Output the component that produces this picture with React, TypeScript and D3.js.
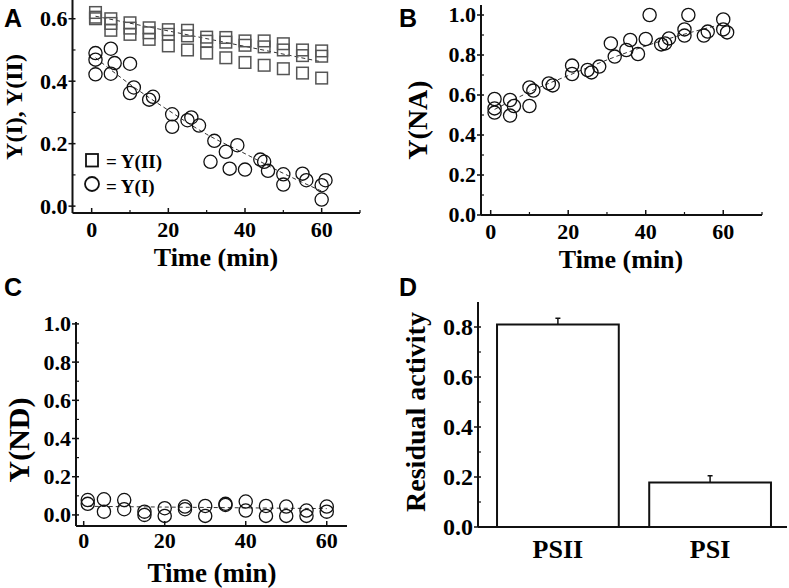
import React from "react";
import * as d3 from "d3";

// ---------- Panel A data ----------
const aSquareT = [1, 1, 1, 5, 5, 5, 10, 10, 10, 15, 15, 15, 20, 20, 20, 25, 25, 25, 30, 30, 30, 35, 35, 35, 40, 40, 40, 45, 45, 45, 50, 50, 50, 55, 55, 55, 60, 60, 60];
const aSquareV = [0.62, 0.605, 0.6, 0.6, 0.585, 0.563, 0.587, 0.57, 0.55, 0.571, 0.555, 0.534, 0.565, 0.55, 0.513, 0.563, 0.545, 0.5, 0.541, 0.528, 0.49, 0.54, 0.525, 0.475, 0.529, 0.515, 0.46, 0.529, 0.51, 0.451, 0.52, 0.5, 0.44, 0.5, 0.482, 0.426, 0.497, 0.48, 0.41];
const aCircleT = [1, 1, 1, 5, 5, 6, 10, 11, 10, 15, 16, 21, 21, 25, 26, 28, 31, 32, 35, 36, 38, 40, 44, 45, 46, 50, 50, 55, 56, 60, 61, 60];
const aCircleV = [0.49, 0.469, 0.422, 0.504, 0.424, 0.458, 0.456, 0.38, 0.362, 0.341, 0.35, 0.294, 0.254, 0.275, 0.284, 0.258, 0.142, 0.209, 0.174, 0.12, 0.195, 0.117, 0.149, 0.142, 0.113, 0.102, 0.069, 0.104, 0.083, 0.067, 0.083, 0.021];
const aFitSqT = [1, 60];
const aFitSqV = [0.608, 0.462];
const aFitCiT = [1, 10, 20, 30, 40, 50, 60];
const aFitCiV = [0.475, 0.39, 0.307, 0.23, 0.168, 0.105, 0.048];

// ---------- Panel B data ----------
const bT = [1, 1, 1, 5, 5, 6, 10, 11, 10, 15, 16, 21, 21, 25, 26, 28, 31, 32, 35, 36, 38, 40, 41, 44, 45, 46, 50, 50, 51, 55, 56, 60, 60, 61];
const bV = [0.58, 0.533, 0.512, 0.575, 0.497, 0.545, 0.638, 0.622, 0.545, 0.658, 0.648, 0.747, 0.705, 0.725, 0.713, 0.742, 0.858, 0.792, 0.825, 0.875, 0.805, 0.88, 1.0, 0.853, 0.858, 0.883, 0.928, 0.897, 1.0, 0.897, 0.917, 0.978, 0.928, 0.913];
const bFitT = [1, 12, 21, 32, 42, 52, 60];
const bFitV = [0.528, 0.633, 0.705, 0.79, 0.858, 0.915, 0.955];

// ---------- Panel C data ----------
const cT = [1, 1, 5, 5, 10, 10, 15, 15, 20, 20, 25, 25, 30, 30, 35, 35, 40, 40, 45, 45, 50, 50, 55, 55, 60, 60];
const cV = [0.078, 0.058, 0.082, 0.017, 0.078, 0.03, 0.017, 0.0, 0.035, -0.005, 0.044, 0.03, 0.047, -0.005, 0.058, 0.052, 0.07, 0.023, 0.047, -0.005, 0.044, -0.005, 0.023, -0.005, 0.044, 0.017];
const cFitT = [1, 60];
const cFitV = [0.045, 0.033];

// ---------- Panel D data ----------
const dCats = ["PSII", "PSI"];
const dVals = [0.81, 0.178];
const dErr = [0.025, 0.027];

// ---------- Tick values ----------
const timeMajor = [0, 20, 40, 60];
const timeMinorA = [10, 30, 50, 70];
const aYMajor = [0.0, 0.2, 0.4, 0.6];
const aYMinor = [0.1, 0.3, 0.5];
const unitMajor = [0.0, 0.2, 0.4, 0.6, 0.8, 1.0];
const unitMinor = [0.1, 0.3, 0.5, 0.7, 0.9];
const dYMajor = [0.0, 0.2, 0.4, 0.6, 0.8];
const dYMinor = [0.1, 0.3, 0.5, 0.7];

const SERIF = "'Liberation Serif', 'Times New Roman', serif";
const SANS = "'Liberation Sans', Arial, sans-serif";
const AX = "#111";

type Lin = d3.ScaleLinear<number, number>;

function YAxis({ scale, x, major, minor, fmt, fs }: { scale: Lin; x: number; major: number[]; minor: number[]; fmt: (v: number) => string; fs: number }) {
  const [r0, r1] = scale.range();
  return (
    <g>
      <line x1={x} x2={x} y1={r0} y2={r1} stroke={AX} strokeWidth={2} />
      {major.map((v) => (
        <g key={"M" + v}>
          <line x1={x - 4} x2={x + 3} y1={scale(v)} y2={scale(v)} stroke={AX} strokeWidth={1.5} />
          <text x={x - 5} y={scale(v)} dy="0.34em" textAnchor="end" fontFamily={SERIF} fontWeight="bold" fontSize={fs} fill="#000">
            {fmt(v)}
          </text>
        </g>
      ))}
      {minor.map((v) => (
        <line key={"m" + v} x1={x} x2={x + 3} y1={scale(v)} y2={scale(v)} stroke={AX} strokeWidth={1.2} />
      ))}
    </g>
  );
}

function XAxis({ scale, y, major, minor, fs, labelDy }: { scale: Lin; y: number; major: number[]; minor: number[]; fs: number; labelDy: number }) {
  const [r0, r1] = scale.range();
  return (
    <g>
      <line x1={r0} x2={r1} y1={y} y2={y} stroke={AX} strokeWidth={2} />
      {major.map((v) => (
        <g key={"M" + v}>
          <line x1={scale(v)} x2={scale(v)} y1={y} y2={y - 5} stroke={AX} strokeWidth={1.5} />
          <text x={scale(v)} y={y + labelDy} textAnchor="middle" fontFamily={SERIF} fontWeight="bold" fontSize={fs} fill="#000">
            {String(v)}
          </text>
        </g>
      ))}
      {minor.map((v) => (
        <line key={"m" + v} x1={scale(v)} x2={scale(v)} y1={y} y2={y - 3} stroke={AX} strokeWidth={1.2} />
      ))}
    </g>
  );
}

function VLabel({ x, y, text, fs }: { x: number; y: number; text: string; fs: number }) {
  return (
    <text transform={`translate(${x},${y}) rotate(-90)`} textAnchor="middle" fontFamily={SERIF} fontWeight="bold" fontSize={fs} fill="#000">
      {text}
    </text>
  );
}

function PanelLetter({ x, y, t }: { x: number; y: number; t: string }) {
  return (
    <text x={x} y={y} fontFamily={SANS} fontWeight="bold" fontSize={25} fill="#000">
      {t}
    </text>
  );
}

function Circles({ xs, ys, x, y }: { xs: number[]; ys: number[]; x: Lin; y: Lin }) {
  return (
    <g>
      {xs.map((t, i) => (
        <circle key={i} cx={x(t)} cy={y(ys[i])} r={6.6} fill="none" stroke="#111" strokeWidth={1.3} />
      ))}
    </g>
  );
}

function FitLine({ xs, ys, x, y }: { xs: number[]; ys: number[]; x: Lin; y: Lin }) {
  const gen = d3
    .line<number>()
    .x((t) => x(t))
    .y((_, i) => y(ys[i]))
    .curve(d3.curveMonotoneX);
  return <path d={gen(xs) || ""} fill="none" stroke="#333" strokeWidth={1} strokeDasharray="4,3" />;
}

const fmt1 = (v: number) => v.toFixed(1);

export default function App() {
  // Panel A scales
  const axA = d3.scaleLinear().domain([-5, 70]).range([72.5, 360]);
  const ayA = d3.scaleLinear().domain([-0.022, 0.66]).range([213, 0]);
  // Panel B
  const axB = d3.scaleLinear().domain([-2.5, 70]).range([481, 762]);
  const ayB = d3.scaleLinear().domain([0, 1.05]).range([215, 5]);
  // Panel C
  const axC = d3.scaleLinear().domain([-1.9, 65]).range([76, 347]);
  const ayC = d3.scaleLinear().domain([-0.058, 1.01]).range([526, 322]);
  // Panel D
  const axD = d3.scaleBand<string>().domain(dCats).range([478, 790]).paddingInner(0.2).paddingOuter(0.125);
  const ayD = d3.scaleLinear().domain([0, 0.9]).range([527, 302]);

  const sq = 11.6;

  return (
    <div style={{ position: "absolute", left: 0, top: 0 }}>
      <svg width={789} height={588} viewBox="0 0 789 588" style={{ display: "block", background: "#fff" }}>
        <rect x={0} y={0} width={789} height={588} fill="#fff" />

        {/* ===== Panel A ===== */}
        <PanelLetter x={4} y={27} t="A" />
        <FitLine xs={aFitSqT} ys={aFitSqV} x={axA} y={ayA} />
        <FitLine xs={aFitCiT} ys={aFitCiV} x={axA} y={ayA} />
        <g>
          {aSquareT.map((t, i) => (
            <rect key={i} x={axA(t) - sq / 2} y={ayA(aSquareV[i]) - sq / 2} width={sq} height={sq} fill="none" stroke="#555" strokeWidth={1.5} />
          ))}
        </g>
        <Circles xs={aCircleT} ys={aCircleV} x={axA} y={ayA} />
        <YAxis scale={ayA} x={72.5} major={aYMajor} minor={aYMinor} fmt={fmt1} fs={22} />
        <XAxis scale={axA} y={213} major={timeMajor} minor={timeMinorA} fs={22} labelDy={24} />
        <VLabel x={22} y={107} text="Y(I), Y(II)" fs={24} />
        <text x={216} y={266} textAnchor="middle" fontFamily={SERIF} fontWeight="bold" fontSize={26}>
          Time (min)
        </text>
        {/* legend */}
        <rect x={86} y={154} width={12} height={12.5} fill="none" stroke="#111" strokeWidth={1.8} />
        <text x={106} y={168} fontFamily={SERIF} fontWeight="bold" fontSize={19}>
          = Y(II)
        </text>
        <circle cx={92} cy={184} r={7} fill="none" stroke="#111" strokeWidth={1.8} />
        <text x={106} y={193} fontFamily={SERIF} fontWeight="bold" fontSize={19}>
          = Y(I)
        </text>

        {/* ===== Panel B ===== */}
        <PanelLetter x={399} y={27} t="B" />
        <FitLine xs={bFitT} ys={bFitV} x={axB} y={ayB} />
        <Circles xs={bT} ys={bV} x={axB} y={ayB} />
        <YAxis scale={ayB} x={481} major={unitMajor} minor={unitMinor} fmt={fmt1} fs={22} />
        <XAxis scale={axB} y={215} major={timeMajor} minor={timeMinorA} fs={22} labelDy={24} />
        <VLabel x={427} y={120} text="Y(NA)" fs={28} />
        <text x={621} y={268} textAnchor="middle" fontFamily={SERIF} fontWeight="bold" fontSize={26}>
          Time (min)
        </text>

        {/* ===== Panel C ===== */}
        <PanelLetter x={4} y={296} t="C" />
        <FitLine xs={cFitT} ys={cFitV} x={axC} y={ayC} />
        <Circles xs={cT} ys={cV} x={axC} y={ayC} />
        <YAxis scale={ayC} x={76} major={unitMajor} minor={unitMinor} fmt={fmt1} fs={22} />
        <XAxis scale={axC} y={526} major={timeMajor} minor={[]} fs={22} labelDy={22} />
        <VLabel x={29} y={440} text="Y(ND)" fs={30} />
        <text x={212} y={582} textAnchor="middle" fontFamily={SERIF} fontWeight="bold" fontSize={27}>
          Time (min)
        </text>

        {/* ===== Panel D ===== */}
        <PanelLetter x={399} y={296} t="D" />
        {dCats.map((c, i) => {
          const x0 = axD(c) || 0;
          const bw = axD.bandwidth();
          const cx = x0 + bw / 2;
          return (
            <g key={c}>
              <line x1={cx} x2={cx} y1={ayD(dVals[i])} y2={ayD(dVals[i] + dErr[i])} stroke="#111" strokeWidth={1.5} />
              <line x1={cx - 2.5} x2={cx + 2.5} y1={ayD(dVals[i] + dErr[i])} y2={ayD(dVals[i] + dErr[i])} stroke="#111" strokeWidth={1.5} />
              <rect x={x0} y={ayD(dVals[i])} width={bw} height={ayD(0) - ayD(dVals[i])} fill="#fff" stroke="#111" strokeWidth={2} />
              <text x={cx} y={558} textAnchor="middle" fontFamily={SERIF} fontWeight="bold" fontSize={26}>
                {c}
              </text>
            </g>
          );
        })}
        <YAxis scale={ayD} x={478} major={dYMajor} minor={dYMinor} fmt={fmt1} fs={24} />
        <line x1={478} x2={787} y1={527} y2={527} stroke={AX} strokeWidth={2} />
        <VLabel x={425} y={412} text="Residual activity" fs={28} />
      </svg>
    </div>
  );
}
